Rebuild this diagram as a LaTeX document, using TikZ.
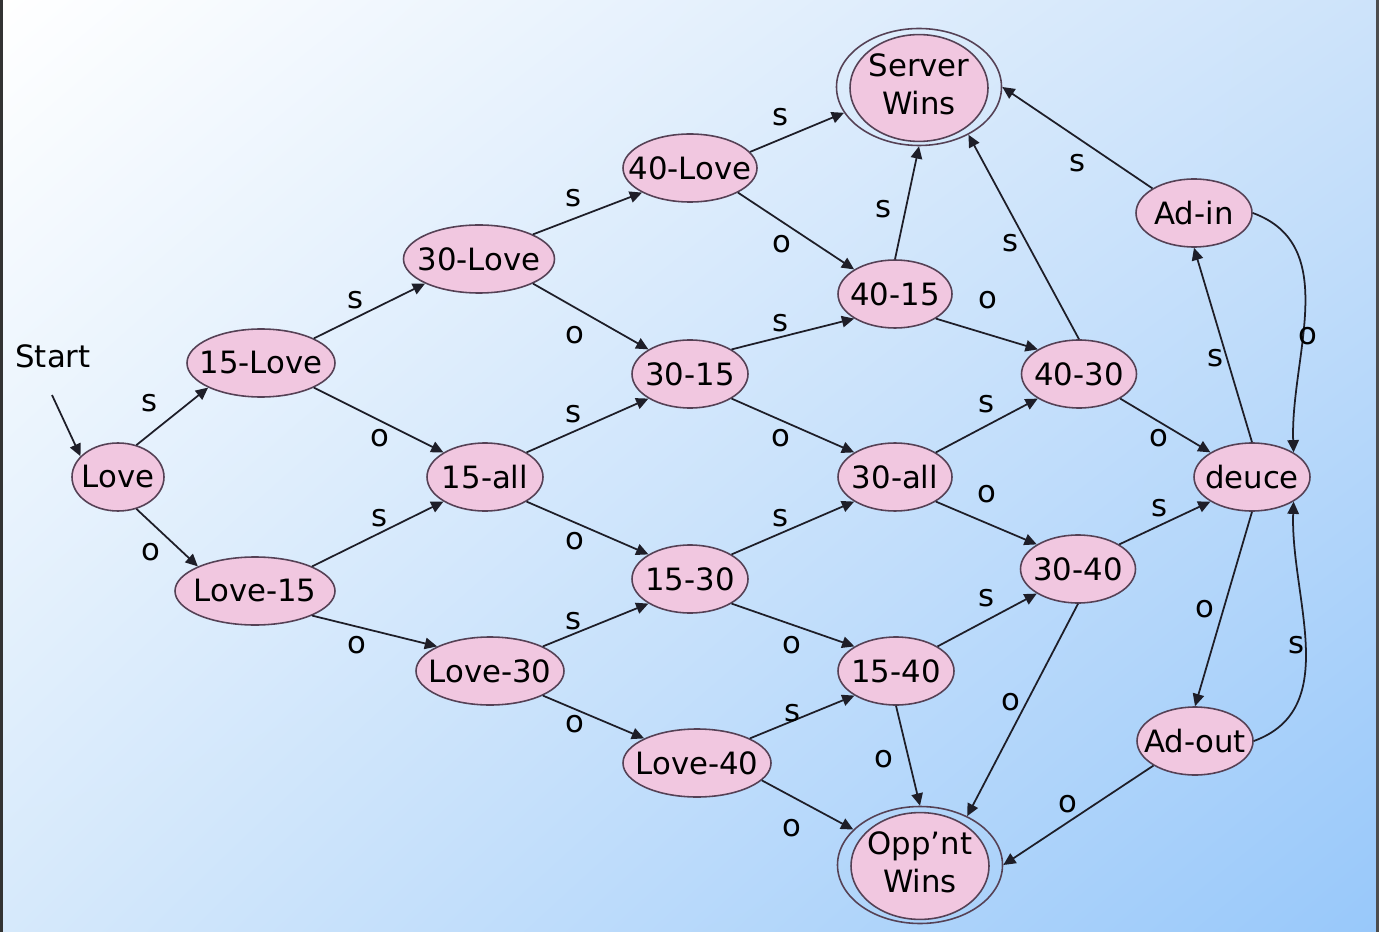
\documentclass[tikz,border=0pt]{standalone}
\usepackage{fontspec}
\setmainfont{DejaVu Sans}
\usetikzlibrary{shapes.geometric,arrows.meta,shadings}
\definecolor{pinkfill}{RGB}{241,199,224}
\definecolor{bordercol}{RGB}{85,65,85}
\definecolor{linecol}{RGB}{30,30,40}
\definecolor{bgA}{RGB}{255,255,255}
\definecolor{bgB}{RGB}{205,227,250}
\definecolor{bgC}{RGB}{214,233,251}
\definecolor{bgD}{RGB}{152,200,250}
\newcommand{\zerobox}[1]{\makebox[0pt]{#1}}
\tikzset{
 st/.style={ellipse, draw=bordercol, line width=0.9pt, fill=pinkfill, inner sep=0pt,
   minimum height=68*0.02cm, minimum width=#1*0.02cm,
   font=\fontsize{17.5}{21.5}\selectfont, text=black},
 ring/.style={ellipse, draw=bordercol, line width=0.9pt, inner sep=0pt,
   minimum width=165*0.02cm, minimum height=117*0.02cm},
 lab/.style={font=\fontsize{17.5}{21}\selectfont, inner sep=0pt, text=black},
 arr/.style={draw=linecol, line width=1pt, -{Triangle[length=7pt,width=6.5pt]}},
}
\begin{document}
\begin{tikzpicture}[x=0.02cm,y=-0.02cm]
\useasboundingbox (0,0) rectangle (1379,932);
\shade[upper left=bgA, upper right=bgB, lower left=bgC, lower right=bgD] (0,0) rectangle (1379,932);
\fill[black!80] (0,0) rectangle (3,932);
\fill[black!70] (1376,0) rectangle (1379,932);

% states
\node[st=92]  (love)  at (118,477) {\zerobox{Love}};
\node[st=148] (fl)    at (261,363) {\zerobox{15-Love}};
\node[st=160] (lf)    at (255,591) {\zerobox{Love-15}};
\node[st=151] (tl)    at (479,259) {\zerobox{30-Love}};
\node[st=116] (fa)    at (485,477) {\zerobox{15-all}};
\node[st=148] (lt)    at (490,671) {\zerobox{Love-30}};
\node[st=134] (ql)    at (690,168) {\zerobox{40-Love}};
\node[st=116] (tf)    at (690,374) {\zerobox{30-15}};
\node[st=116] (ft)    at (690,579) {\zerobox{15-30}};
\node[st=148] (lq)    at (697,763) {\zerobox{Love-40}};
\node[st=114] (qf)    at (895,294) {\zerobox{40-15}};
\node[st=114] (ta)    at (895,477) {\zerobox{30-all}};
\node[st=116] (fq)    at (896,671) {\zerobox{15-40}};
\node[st=115] (qt)    at (1079,374) {\zerobox{40-30}};
\node[st=115] (tq)    at (1078,569) {\zerobox{30-40}};
\node[st=116] (adin)  at (1194,213) {\zerobox{Ad-in}};
\node[st=116] (deuce) at (1252,477) {\zerobox{deuce}};
\node[st=116] (adout) at (1195,741) {\zerobox{Ad-out}};
\node[ring] (sw) at (919,87) {};
\node[st=138, minimum height=94*0.02cm] (swi) at (919,88)
  {\zerobox{\begin{tabular}{@{}c@{}}Server\\Wins\end{tabular}}};
\node[ring] (ow) at (920,865) {};
\node[st=138, minimum height=94*0.02cm] (owi) at (920,866)
  {\zerobox{\begin{tabular}{@{}c@{}}Opp’nt\\Wins\end{tabular}}};

% start
\node[lab] (start) at (53,356) {Start};
\coordinate (s0) at (52,395);
\draw[arr] (s0) -- (love.151);

% lattice edges
\draw[arr] (love.60) -- (fl.south west);
\draw[arr] (love.-60) -- (lf.north west);
\draw[arr] (fl.north east) -- (tl.south west);
\draw[arr] (fl.south east) -- (fa.north west);
\draw[arr] (lf.north east) -- (fa.south west);
\draw[arr] (lf.south east) -- (lt.north west);
\draw[arr] (tl.north east) -- (ql.south west);
\draw[arr] (tl.south east) -- (tf.north west);
\draw[arr] (fa.north east) -- (tf.south west);
\draw[arr] (fa.south east) -- (ft.north west);
\draw[arr] (lt.north east) -- (ft.south west);
\draw[arr] (lt.south east) -- (lq.north west);
\draw[arr] (ql.15) -- (sw.199);
\draw[arr] (ql.south east) -- (qf.north west);
\draw[arr] (tf.north east) -- (qf.south west);
\draw[arr] (tf.south east) -- (ta.north west);
\draw[arr] (ft.north east) -- (ta.south west);
\draw[arr] (ft.south east) -- (fq.north west);
\draw[arr] (lq.north east) -- (fq.south west);
\draw[arr] (lq.-15) -- (ow.152);
\draw[arr] (qf.north) -- (sw.south);
\draw[arr] (qf.south east) -- (qt.north west);
\draw[arr] (ta.north east) -- (qt.south west);
\draw[arr] (ta.south east) -- (tq.north west);
\draw[arr] (fq.north east) -- (tq.south west);
\draw[arr] (fq.south) -- (ow.north);
\draw[arr] (qt.north) -- (sw.-44);
\draw[arr] (qt.south east) -- (deuce.north west);
\draw[arr] (tq.north east) -- (deuce.south west);
\draw[arr] (tq.south) -- (ow.46);
\draw[arr] (adin.north west) -- (sw.east);
\draw[arr] (deuce.north) -- (adin.south);
\draw[arr] (adin.east) to[out=-20,in=92] (deuce.north east);
\draw[arr] (deuce.south) -- (adout.north);
\draw[arr] (adout.east) to[out=20,in=-92] (deuce.south east);
\draw[arr] (adout.south west) -- (ow.east);

% edge labels
\node[lab] (e01) at (150,403) {s};
\node[lab] (e02) at (151,552) {o};
\node[lab] (e03) at (356,300) {s};
\node[lab] (e04) at (380,438) {o};
\node[lab] (e05) at (380,518) {s};
\node[lab] (e06) at (357,645) {o};
\node[lab] (e07) at (574,198) {s};
\node[lab] (e08) at (575,335) {o};
\node[lab] (e09) at (574,414) {s};
\node[lab] (e10) at (575,541) {o};
\node[lab] (e11) at (574,621) {s};
\node[lab] (e12) at (575,724) {o};
\node[lab] (e13) at (780,117) {s};
\node[lab] (e14) at (782,244) {o};
\node[lab] (e15) at (780,323) {s};
\node[lab] (e16) at (781,438) {o};
\node[lab] (e17) at (780,518) {s};
\node[lab] (e18) at (792,645) {o};
\node[lab] (e19) at (792,713) {s};
\node[lab] (e20) at (792,828) {o};
\node[lab] (e21) at (883,209) {s};
\node[lab] (e22) at (988,300) {o};
\node[lab] (e23) at (986,404) {s};
\node[lab] (e24) at (987,494) {o};
\node[lab] (e25) at (986,598) {s};
\node[lab] (e26) at (884,759) {o};
\node[lab] (e27) at (1010,243) {s};
\node[lab] (e28) at (1159,438) {o};
\node[lab] (e29) at (1159,508) {s};
\node[lab] (e30) at (1011,702) {o};
\node[lab] (e31) at (1077,163) {s};
\node[lab] (e32) at (1215,358) {s};
\node[lab] (e33) at (1308,336) {o};
\node[lab] (e34) at (1205,609) {o};
\node[lab] (e35) at (1296,645) {s};
\node[lab] (e36) at (1068,804) {o};
\end{tikzpicture}
\end{document}
